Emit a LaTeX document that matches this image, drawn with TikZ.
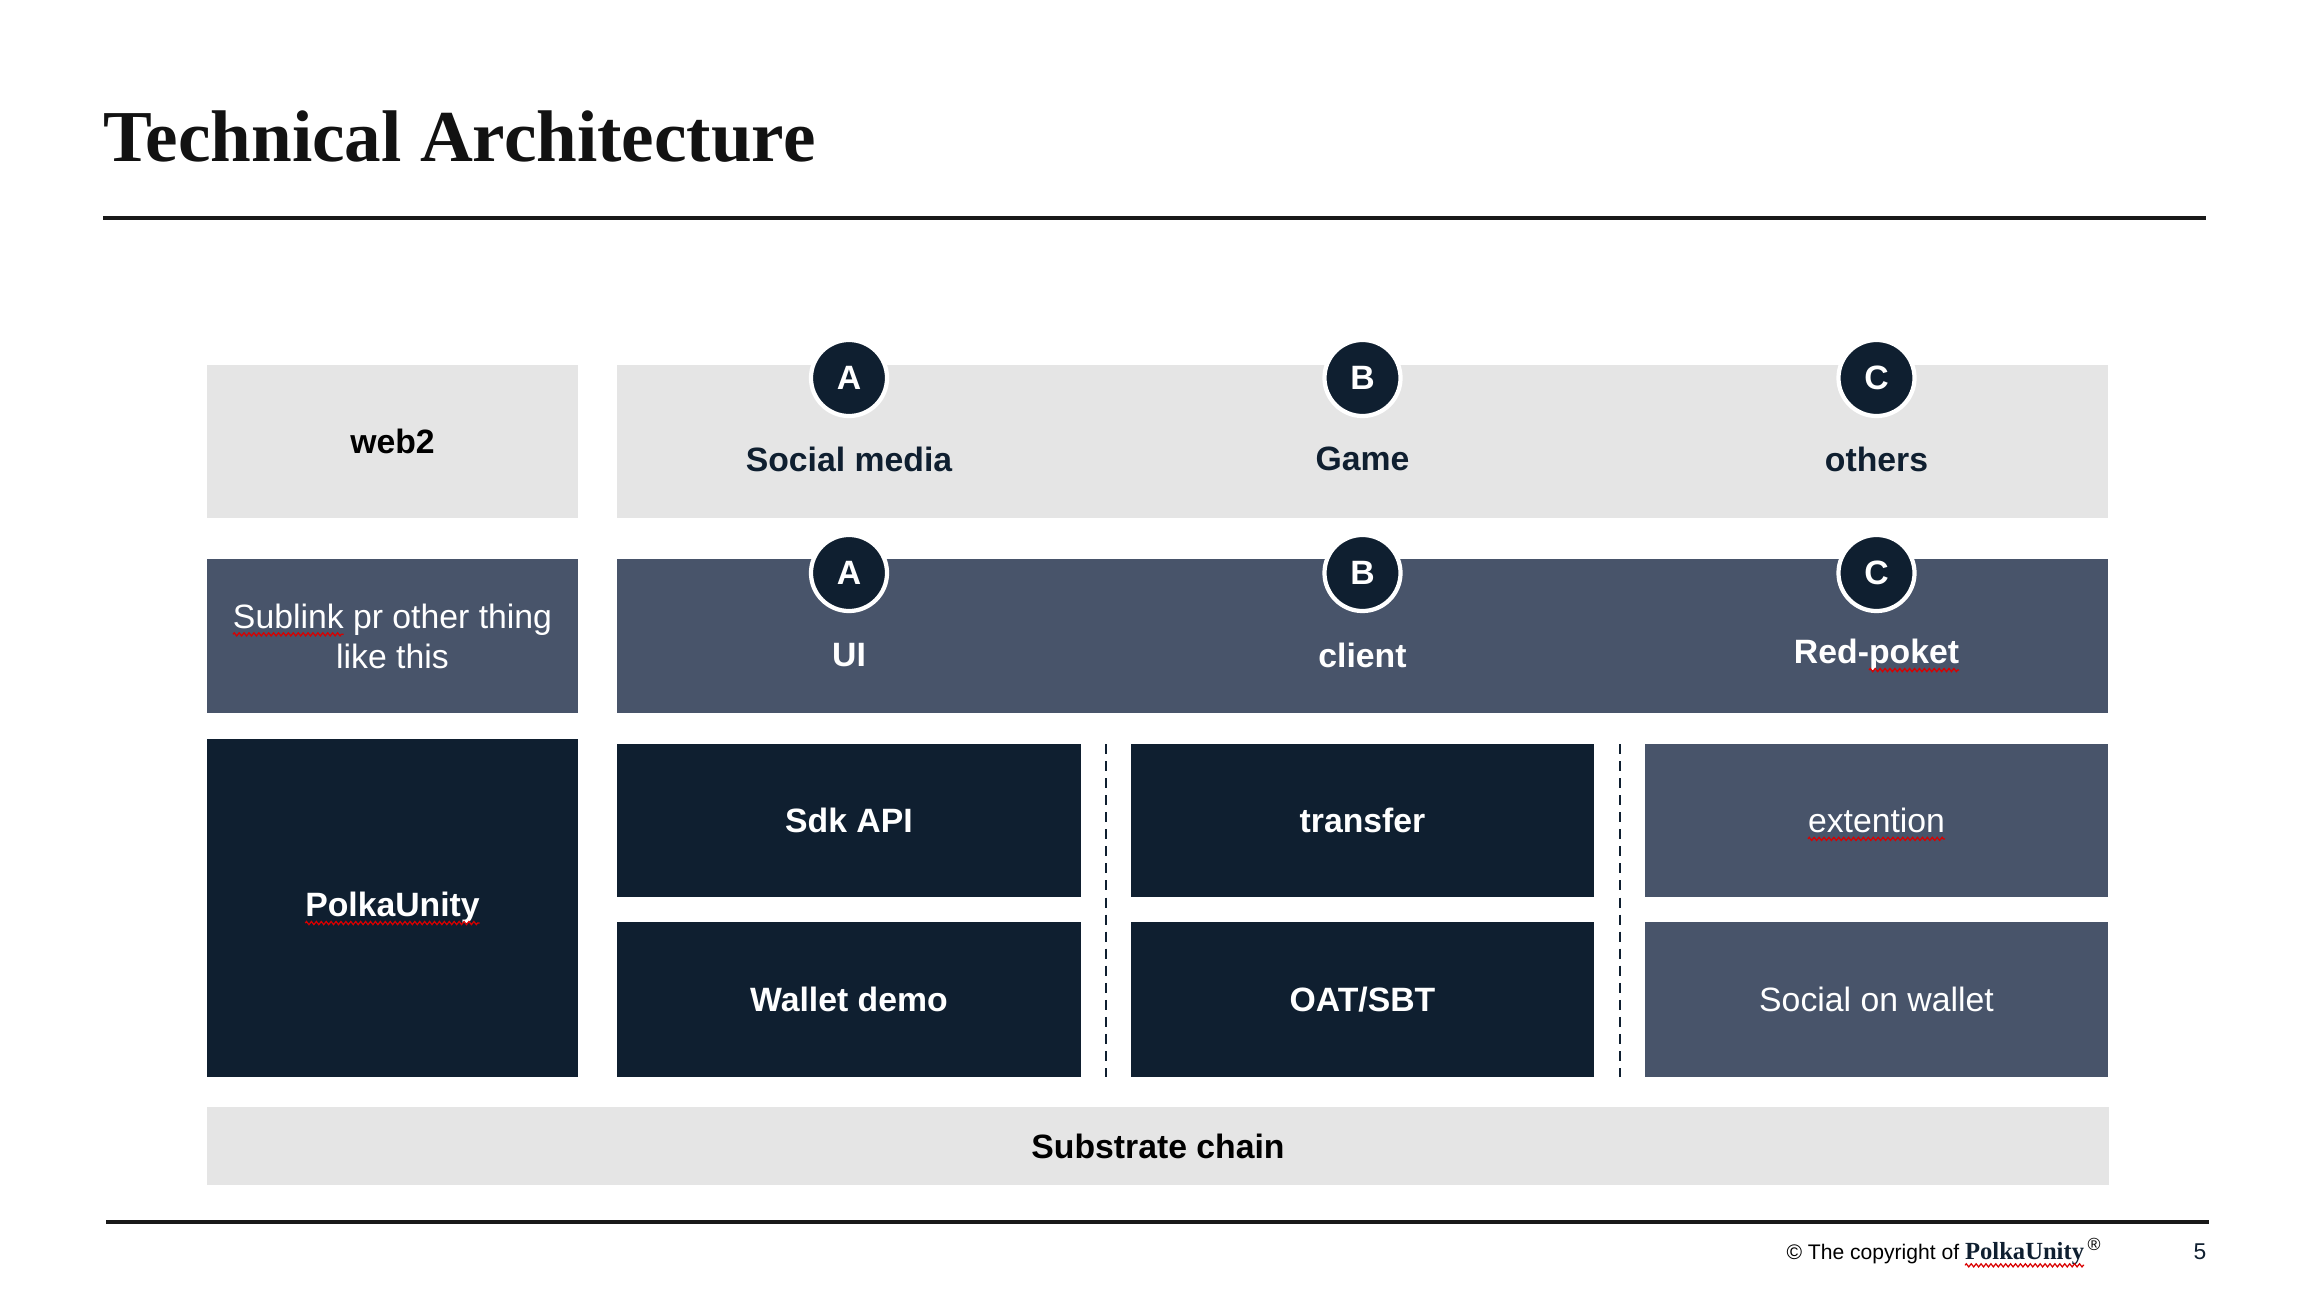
\documentclass[tikz,border=0pt]{standalone}
\usepackage{fontspec}
\setmainfont{Liberation Serif}
\setsansfont{Liberation Sans}
\usetikzlibrary{decorations.pathmorphing}

\definecolor{navy}{HTML}{0F1F30}
\definecolor{slate}{HTML}{48546A}
\definecolor{lightpanel}{HTML}{E5E5E5}

\tikzset{
    boxfont/.style={font=\sffamily\fontsize{9.6}{11.4}\selectfont},
    lightbox/.style={rectangle, inner sep=0pt, fill=lightpanel, text=black, boxfont},
    slatebox/.style={rectangle, inner sep=0pt, fill=slate, text=white, boxfont, align=center},
    navybox/.style={rectangle, inner sep=0pt, fill=navy, text=white, boxfont},
    badge/.style={circle, inner sep=0pt, minimum size=0.76cm, fill=navy, draw=white, line width=1.2pt, text=white, boxfont},
    rule/.style={line width=0.9pt, black!90},
    divider/.style={navy, line width=0.6pt, dash pattern=on 2.85pt off 2pt},
    squiggle/.style={red!85!black, line width=0.35pt, decorate, decoration={zigzag, amplitude=0.45pt, segment length=1.4pt}}
}

% Red spell-check mark under a word
\newcommand{\typo}[1]{%
    \tikz[baseline=(w.base)]{%
        \node[rectangle, inner sep=0pt, outer sep=0pt, minimum width=0pt, minimum height=0pt, draw=none, fill=none, anchor=base] (w) {#1};%
        \draw[squiggle, overlay] ([yshift=-1.8pt]w.base west) -- ([yshift=-1.8pt]w.base east);%
    }%
}

% One layer box: name, style, centre, width, height, text
\newcommand{\layerbox}[6]{
    \node[#2, minimum width=#4, minimum height=#5] (#1) at (#3) {#6};
}

\begin{document}
\begin{tikzpicture}[x=0.01cm, y=-0.01cm]
    \useasboundingbox (0,0) rectangle (2314,1300);

    % Title and top rule
    \node[anchor=base west, inner sep=0pt, text=black!93, font=\rmfamily\bfseries\fontsize{20.8}{24}\selectfont] (title) at (103,162) {Technical Architecture};
    \coordinate (topL) at (103,218);
    \coordinate (topR) at (2206,218);
    \draw[rule] (topL) -- (topR);

    % Left column
    \layerbox{web2}{lightbox}{392.5,441.5}{3.70cm}{1.53cm}{\bfseries web2};
    \layerbox{sublink}{slatebox}{392.5,636}{3.70cm}{1.54cm}{\typo{Sublink} pr other thing\\like this};
    \layerbox{polka}{navybox}{392.5,908}{3.70cm}{3.38cm}{\bfseries\typo{PolkaUnity}};

    % Wide bands
    \layerbox{apps}{lightbox}{1362.5,441.5}{14.91cm}{1.53cm}{};
    \layerbox{front}{slatebox}{1362.5,636}{14.91cm}{1.54cm}{};

    % Badges and band labels
    \foreach \x/\l/\k/\top/\mid in {849/A/a/Social media/UI, 1362.5/B/b/Game/client, 1876.5/C/c/others/Red-\typo{poket}} {
        \node[badge] (top\k) at (\x,378) {\bfseries\l};
        \node[boxfont, text=navy] (app\k) at (\x,459) {\bfseries\top};
        \node[badge] (mid\k) at (\x,573) {\bfseries\l};
        \node[boxfont, text=white] (ui\k) at (\x,655) {\bfseries\mid};
    }

    % Modules
    \foreach \x/\k/\s/\f/\u/\v in {849/a/navybox/\bfseries/Sdk API/Wallet demo, 1362.5/b/navybox/\bfseries/transfer/{OAT/SBT}, 1876.5/c/slatebox/\mdseries/\typo{extention}/Social on wallet} {
        \layerbox{mod\k}{\s}{\x,820.5}{4.63cm}{1.53cm}{\f\u};
        \layerbox{sub\k}{\s}{\x,999.5}{4.63cm}{1.55cm}{\f\v};
    }
    \draw[divider] (1106,744) -- (1106,1077);
    \draw[divider] (1620,744) -- (1620,1077);

    % Chain
    \layerbox{chain}{lightbox}{1158,1146}{19.00cm}{0.78cm}{\bfseries Substrate chain};

    % Footer
    \coordinate (botL) at (106,1222);
    \coordinate (botR) at (2209,1222);
    \draw[rule] (botL) -- (botR);
    \node[anchor=base east, inner sep=0pt, font=\sffamily\fontsize{6}{7}\selectfont] (copy) at (2103,1259) {© The copyright of {\rmfamily\bfseries\fontsize{7}{8}\selectfont\color{navy}\typo{PolkaUnity}}\,\textsuperscript{®}};
    \node[anchor=base, inner sep=0pt, text=navy, font=\sffamily\fontsize{6.5}{7}\selectfont] (page) at (2200,1259) {5};
\end{tikzpicture}
\end{document}
